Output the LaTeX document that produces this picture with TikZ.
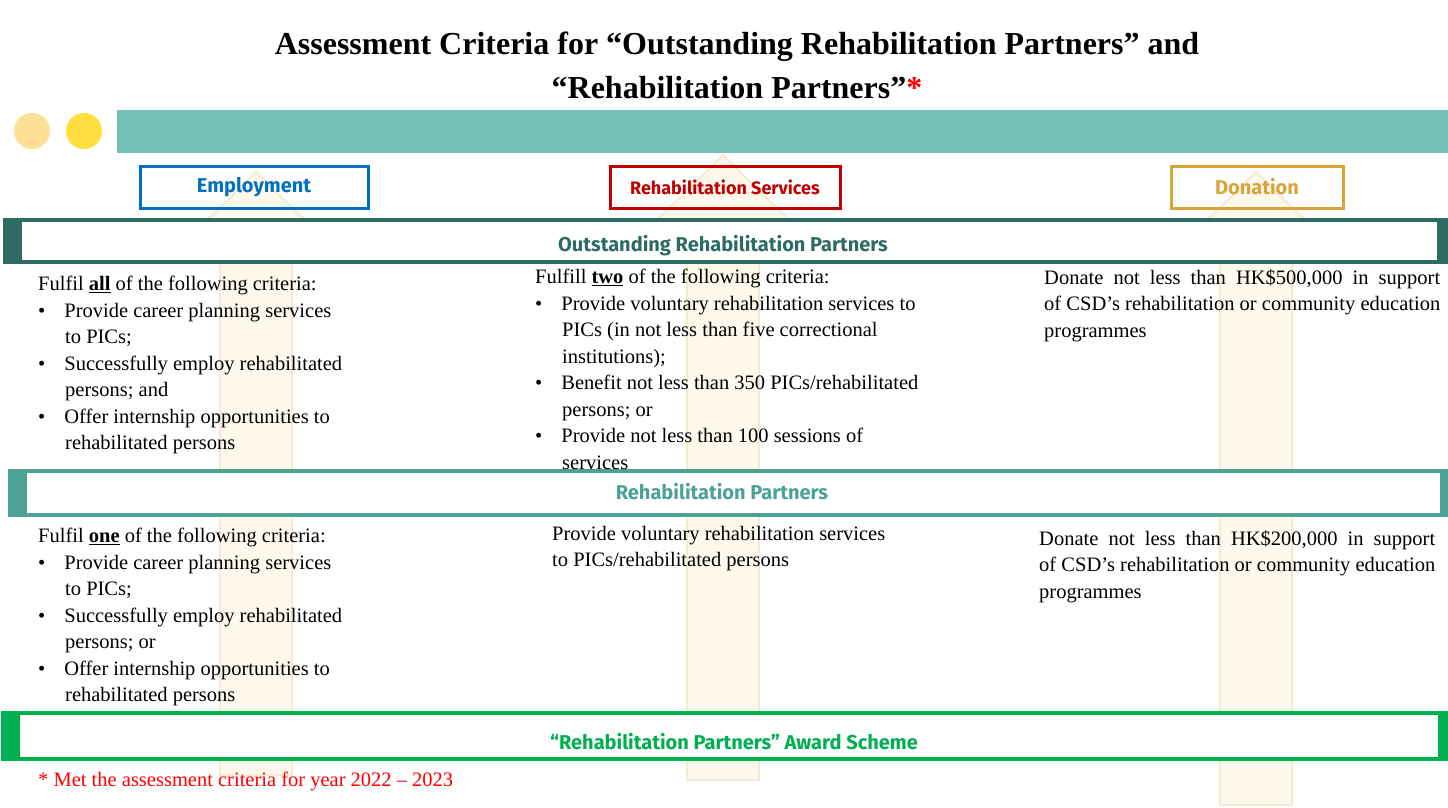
\documentclass[tikz,border=0pt]{standalone}
\usepackage{fontspec}
\setmainfont{Liberation Serif}
\newfontfamily\headfont{Fira Sans}
\usetikzlibrary{positioning}
\definecolor{teal1}{HTML}{75C1B8}
\definecolor{dkgreen}{HTML}{2E6B62}
\definecolor{mdgreen}{HTML}{4BA295}
\definecolor{brgreen}{HTML}{00B050}
\definecolor{empblue}{HTML}{0070C0}
\definecolor{servred}{HTML}{C00000}
\definecolor{dongold}{HTML}{D9A437}
\definecolor{arrowfill}{HTML}{FEF9EC}
\definecolor{arrowline}{HTML}{F5EBD3}
\begin{document}
\begin{tikzpicture}[x=1pt,y=-1pt]
\tikzset{
    catbox/.style={%
        draw, line width=3pt,
        minimum width=228pt, minimum height=42pt,
        font=\headfont\bfseries\fontsize{20}{22}\selectfont
        },
    bartext/.style={%
        font=\headfont\bfseries\fontsize{20}{22}\selectfont
        },
    body/.style={%
        font=\fontsize{20.5}{26.5}\selectfont,
        inner sep=0pt, align=left, anchor=north west
        },
    upshaft/.style={%
        fill=arrowfill, draw=arrowline, line width=2pt
        },
}
\useasboundingbox (0,0) rectangle (1448,807);
%%%ARROWS
\foreach \cx/\top/\bot in {256/172/775, 723/155/780, 1256/172/805}{
  \draw[upshaft] (\cx-36,\bot) -- (\cx-36,\top+72) -- (\cx-73,\top+72) -- (\cx,\top)
    -- (\cx+73,\top+72) -- (\cx+36,\top+72) -- (\cx+36,\bot) -- cycle;
}
%%%TITLE
\node[font=\bfseries\fontsize{32}{44}\selectfont, align=center] (title) at (737,65)
  {Assessment Criteria for “Outstanding Rehabilitation Partners” and\\
   “Rehabilitation Partners”\textcolor{red}{*}};
%%%TOP BAR
\fill[yellow!45!orange!40] (32,131) circle (18);
\fill[orange!35!yellow!75] (84,131) circle (18);
\fill[teal1] (117,110) rectangle (1448,153);
%%%CATEGORIES
\node[catbox, draw=empblue, text=empblue] (emp) at (254,187) {Employment};
\node[catbox, draw=servred, text=servred, minimum width=230pt] (serv) at (725,187) {\fontsize{18}{20}\selectfont Rehabilitation Services};
\node[catbox, draw=dongold, text=dongold, minimum width=172pt] (don) at (1257,187) {Donation};
%%%LEVEL BARS
\fill[dkgreen] (3,218) rectangle (1448,264);
\fill[white] (22,222) rectangle (1437,260);
\node[bartext, text=dkgreen] (orp) at (723,246) {Outstanding Rehabilitation Partners};
\fill[mdgreen] (8,469) rectangle (1448,517);
\fill[white] (27,473) rectangle (1440,513);
\node[bartext, text=mdgreen] (rp) at (722,492) {Rehabilitation Partners};
\fill[brgreen] (1,711) rectangle (1448,761);
\fill[white] (20,715) rectangle (1438,757);
\node[bartext, text=brgreen] (award) at (734,742) {“Rehabilitation Partners” Award Scheme};
%%%TEXTS
\node[body] (empo) at (38,276) {Fulfil \underline{\textbf{all}} of the following criteria:\\
  •\hspace{19pt}Provide career planning services\\
  \hspace{27pt}to PICs;\\
  •\hspace{19pt}Successfully employ rehabilitated\\
  \hspace{27pt}persons; and\\
  •\hspace{19pt}Offer internship opportunities to\\
  \hspace{27pt}rehabilitated persons};
\node[body] (servo) at (535,269) {Fulfill \underline{\textbf{two}} of the following criteria:\\
  •\hspace{19pt}Provide voluntary rehabilitation services to\\
  \hspace{27pt}PICs (in not less than five correctional\\
  \hspace{27pt}institutions);\\
  •\hspace{19pt}Benefit not less than 350 PICs/rehabilitated\\
  \hspace{27pt}persons; or\\
  •\hspace{19pt}Provide not less than 100 sessions of\\
  \hspace{27pt}services};
\node[body, text width=396pt, align=justify] (dono) at (1044,269)
  {Donate not less than HK\$500,000 in support of CSD’s rehabilitation or community education programmes};
\node[body] (empr) at (38,528) {Fulfil \underline{\textbf{one}} of the following criteria:\\
  •\hspace{19pt}Provide career planning services\\
  \hspace{27pt}to PICs;\\
  •\hspace{19pt}Successfully employ rehabilitated\\
  \hspace{27pt}persons; or\\
  •\hspace{19pt}Offer internship opportunities to\\
  \hspace{27pt}rehabilitated persons};
\node[body] (servr) at (552,526) {Provide voluntary rehabilitation services\\
  to PICs/rehabilitated persons};
\node[body, text width=396pt, align=justify] (donr) at (1039,530)
  {Donate not less than HK\$200,000 in support of CSD’s rehabilitation or community education programmes};
\node[body, text=red] (note) at (38,772) {* Met the assessment criteria for year 2022 – 2023};
\end{tikzpicture}
\end{document}
